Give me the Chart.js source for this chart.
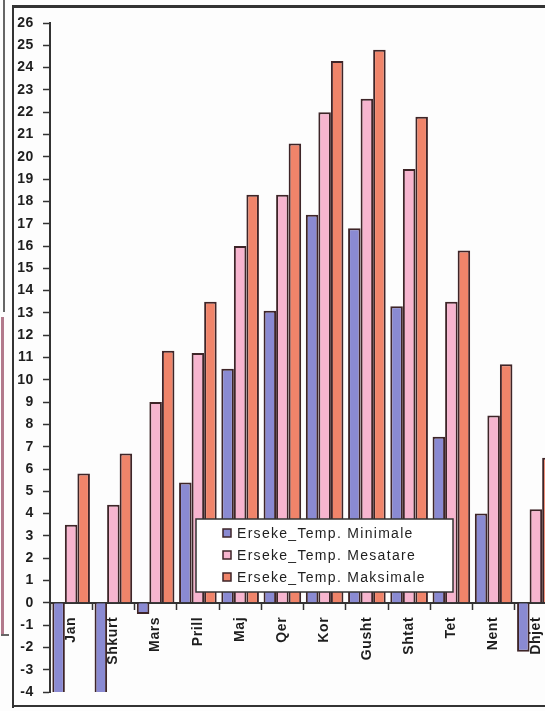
<!DOCTYPE html>
<html lang="sq">
<head>
  <meta charset="UTF-8">
  <title>Erseke temperatura</title>
  <script src="https://cdn.jsdelivr.net/npm/chart.js"></script>
  <style>
    body { margin: 0; background: #fff; }
    .wrap { position: relative; width: 545px; height: 711px; overflow: hidden; background: #fdfdfd; }
    #tempChart { position: absolute; left: 0; top: 0; }
    .line { position: absolute; background: #333; z-index: 2; }
  </style>
</head>
<body>
<div class="wrap">
  <canvas id="tempChart" width="570" height="711"></canvas>
  <!-- scan frame -->
  <div class="line" style="left:3px; top:0; width:2px; height:312px; background:#666;"></div>
  <div class="line" style="left:1px; top:317px; width:3px; height:318px; background:#b27a8c;"></div>
  <div class="line" style="left:1px; top:634px; width:8px; height:2px; background:#666;"></div>
  <div class="line" style="left:12px; top:5px; width:2px; height:703px;"></div>
  <div class="line" style="left:12px; top:5px; width:533px; height:3px;"></div>
  <div class="line" style="left:12px; top:705px; width:533px; height:2px;"></div>
</div>

<script>
const months = ['Jan', 'Shkurt', 'Mars', 'Prill', 'Maj', 'Qer', 'Kor', 'Gusht', 'Shtat', 'Tet', 'Nent', 'Dhjet'];
const tempMin = [-4.4, -4.3, -0.5, 5.4, 10.5, 13.1, 17.4, 16.8, 13.3, 7.45, 4.0, -2.2];
const tempMes = [3.5, 4.4, 9.0, 11.2, 16.0, 18.3, 22.0, 22.6, 19.45, 13.5, 8.4, 4.2];
const tempMax = [5.8, 6.7, 11.3, 13.5, 18.3, 20.6, 24.3, 24.8, 21.8, 15.8, 10.7, 6.5];
const seriesNames = ['Erseke_Temp. Minimale', 'Erseke_Temp. Mesatare', 'Erseke_Temp. Maksimale'];
const yMin = -4, yMax = 26;

const FONT = '"Liberation Sans", Arial, sans-serif';
const EDGE = '#3e2528';

// letter spacing like the scanned Excel text
const spacing = {
  id: 'spacing',
  beforeDraw(chart) { chart.ctx.letterSpacing = '0.6px'; }
};

// legend box sitting inside the plot, like the original
const boxLegend = {
  id: 'boxLegend',
  afterDraw(chart) {
    const ctx = chart.ctx;
    const x = 196, y = 519, w = 257, h = 73;
    ctx.save();
    ctx.fillStyle = '#fff';
    ctx.fillRect(x, y, w, h);
    ctx.strokeStyle = '#333';
    ctx.lineWidth = 1.5;
    ctx.strokeRect(x, y, w, h);
    ctx.font = '14px ' + FONT;
    ctx.textBaseline = 'middle';
    ctx.letterSpacing = '1.3px';
    chart.data.datasets.forEach((ds, i) => {
      const cy = y + 14 + i * 22;
      ctx.fillStyle = ds.backgroundColor;
      ctx.fillRect(x + 27, cy - 4, 8, 8);
      ctx.strokeStyle = EDGE;
      ctx.lineWidth = 1.5;
      ctx.strokeRect(x + 27, cy - 4, 8, 8);
      ctx.fillStyle = '#1e1e1e';
      ctx.fillText(ds.label, x + 41, cy + 1);
    });
    ctx.restore();
  }
};

const tempChart = new Chart(document.getElementById('tempChart'), {
  type: 'bar',
  data: {
    labels: months,
    datasets: [
      { label: seriesNames[0], data: tempMin, backgroundColor: '#8a8ad2' },
      { label: seriesNames[1], data: tempMes, backgroundColor: '#f7b5cf' },
      { label: seriesNames[2], data: tempMax, backgroundColor: '#f0846a' }
    ]
  },
  options: {
    responsive: false,
    animation: false,
    devicePixelRatio: 1,
    layout: { padding: { top: 23, bottom: 19, right: 13, left: 0 } },
    datasets: {
      bar: {
        borderColor: EDGE,
        borderWidth: 2,
        categoryPercentage: 0.89,
        barPercentage: 1.0
      }
    },
    plugins: {
      legend: { display: false },
      tooltip: { enabled: false }
    },
    scales: {
      x: {
        position: { y: 0 },
        grid: { offset: true, drawOnChartArea: false, tickLength: 6, tickColor: '#333', tickWidth: 1.5 },
        border: { display: true, color: '#333', width: 2 },
        ticks: {
          autoSkip: false, minRotation: 90, maxRotation: 90, padding: 8,
          color: '#1e1e1e', font: { family: FONT, size: 14, weight: 'bold' }
        }
      },
      y: {
        min: yMin, max: yMax,
        afterFit(scale) { scale.width = 50; },
        grid: { drawOnChartArea: false, tickLength: 7, tickColor: '#333', tickWidth: 1.5 },
        border: { display: true, color: '#333', width: 2 },
        ticks: {
          stepSize: 1, autoSkip: false, padding: 9,
          color: '#1e1e1e', font: { family: FONT, size: 14, weight: 'bold' }
        }
      }
    }
  },
  plugins: [spacing, boxLegend]
});
</script>
</body>
</html>
